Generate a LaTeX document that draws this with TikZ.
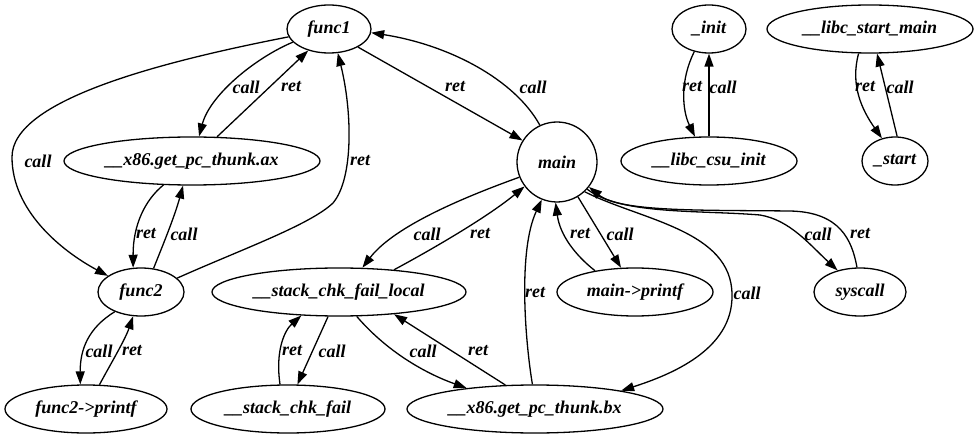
\documentclass[tikz,border=0pt]{standalone}
\usepackage{fontspec}
\setmainfont{Liberation Serif}
\usetikzlibrary{arrows.meta,shapes.geometric}
\begin{document}
\begin{tikzpicture}[x=1pt,y=-1pt,
  fn/.style={ellipse,draw,line width=1.3pt,inner sep=0pt,minimum height=48pt,
    font=\bfseries\itshape\fontsize{18}{20}\selectfont},
  rnd/.style={circle,draw,line width=1.3pt,inner sep=0pt,minimum size=80pt,
    font=\bfseries\itshape\fontsize{18}{20}\selectfont},
  link/.style={draw,line width=1.3pt,-{Triangle[length=13pt,width=9pt]}},
  lbl/.style={inner sep=0pt,font=\bfseries\itshape\fontsize{18}{20}\selectfont}]
\useasboundingbox (0,0) rectangle (979,438);

% functions
\node[fn,minimum width=84pt]  (func1)   at (329,29)  {func1};
\node[fn,minimum width=256pt] (thax)    at (192,161) {\_\_x86.get\_pc\_thunk.ax};
\node[rnd]                    (main)    at (557,162) {main};
\node[fn,minimum width=74pt]  (init)    at (709,29)  {\_init};
\node[fn,minimum width=206pt] (lsm)     at (870,29)  {\_\_libc\_start\_main};
\node[fn,minimum width=176pt] (csu)     at (709,161) {\_\_libc\_csu\_init};
\node[fn,minimum width=66pt]  (start)   at (895,161) {\_start};
\node[fn,minimum width=86pt]  (func2)   at (141,292) {func2};
\node[fn,minimum width=254pt] (scfl)    at (339,292) {\_\_stack\_chk\_fail\_local};
\node[fn,minimum width=156pt] (mprintf) at (635,292) {main->printf};
\node[fn,minimum width=92pt]  (sys)     at (860,292) {syscall};
\node[fn,minimum width=162pt] (fprintf) at (86,409)  {func2->printf};
\node[fn,minimum width=194pt] (scf)     at (288,409) {\_\_stack\_chk\_fail};
\node[fn,minimum width=256pt] (thbx)    at (535,409) {\_\_x86.get\_pc\_thunk.bx};

% func1 <-> thunk.ax
\draw[link] (func1.200) .. controls (255,58) and (210,95) .. (thax.74)
  node[lbl] at (246,87) {call};
\draw[link] (thax.44) -- (func1.226)
  node[lbl] at (291,87) {ret};

% func1 <-> func2
\draw[link] (func1.191) .. controls (160,62) and (12,100) .. (12,157)
  .. controls (12,210) and (60,250) .. (func2.154)
  node[lbl] at (38,161) {call};
\draw[link] (func2.21) .. controls (240,250) and (310,225) .. (333,203)
  .. controls (354,178) and (352,110) .. (func1.290)
  node[lbl] at (360,161) {ret};

% thunk.ax <-> func2
\draw[link] (thax.220) .. controls (145,200) and (133,225) .. (func2.108)
  node[lbl] at (146,234) {ret};
\draw[link] (func2.62) .. controls (165,240) and (175,215) .. (thax.250)
  node[lbl] at (184,234) {call};

% func1 <-> main
\draw[link] (func1.328) -- (main.148)
  node[lbl] at (455,87) {ret};
\draw[link] (main.115) .. controls (515,80) and (450,45) .. (func1.355)
  node[lbl] at (533,87) {call};

% main <-> __stack_chk_fail_local
\draw[link] (main.202) .. controls (470,195) and (395,225) .. (scfl.46)
  node[lbl] at (427,234) {call};
\draw[link] (scfl.22) .. controls (440,245) and (490,215) .. (main.217)
  node[lbl] at (480,234) {ret};

% main <-> thunk.bx
\draw[link] (thbx.96) .. controls (525,340) and (518,250) .. (main.248)
  node[lbl] at (535,293) {ret};
\draw[link] (main.313) .. controls (640,220) and (732,230) .. (732,295)
  .. controls (733,350) and (670,375) .. (thbx.12)
  node[lbl] at (747,293) {call};

% main <-> main->printf
\draw[link] (mprintf.152) .. controls (575,255) and (560,235) .. (main.268)
  node[lbl] at (580,234) {ret};
\draw[link] (main.301) -- (mprintf.120)
  node[lbl] at (620,234) {call};

% main <-> syscall
\draw[link] (main.318) .. controls (620,215) and (700,210) .. (760,215)
  .. controls (790,220) and (810,245) .. (sys.136)
  node[lbl] at (818,234) {call};
\draw[link] (sys.97) .. controls (852,240) and (840,212) .. (790,211)
  .. controls (700,210) and (620,212) .. (main.322)
  node[lbl] at (860,234) {ret};

% func2 <-> func2->printf
\draw[link] (func2.217) .. controls (88,328) and (80,350) .. (fprintf.103)
  node[lbl] at (99,351) {call};
\draw[link] (fprintf.61) .. controls (110,365) and (125,340) .. (func2.252)
  node[lbl] at (132,351) {ret};

% __stack_chk_fail_local <-> __stack_chk_fail
\draw[link] (scf.108) .. controls (275,350) and (285,330) .. (scfl.212)
  node[lbl] at (292,351) {ret};
\draw[link] (scfl.246) -- (scf.69)
  node[lbl] at (332,351) {call};

% __stack_chk_fail_local <-> thunk.bx
\draw[link] (scfl.306) .. controls (390,355) and (430,375) .. (thbx.163)
  node[lbl] at (423,351) {call};
\draw[link] (thbx.141) -- (scfl.338)
  node[lbl] at (478,351) {ret};

% _init <-> __libc_csu_init
\draw[link] (init.237) .. controls (680,80) and (682,110) .. (csu.120)
  node[lbl] at (692,87) {ret};
\draw[link] (csu.90) -- (init.270)
  node[lbl] at (723,87) {call};

% __libc_start_main <-> _start
\draw[link] (lsm.245) .. controls (850,85) and (862,110) .. (start.120)
  node[lbl] at (865,87) {ret};
\draw[link] (start.85) -- (lsm.286)
  node[lbl] at (900,87) {call};
\end{tikzpicture}
\end{document}
